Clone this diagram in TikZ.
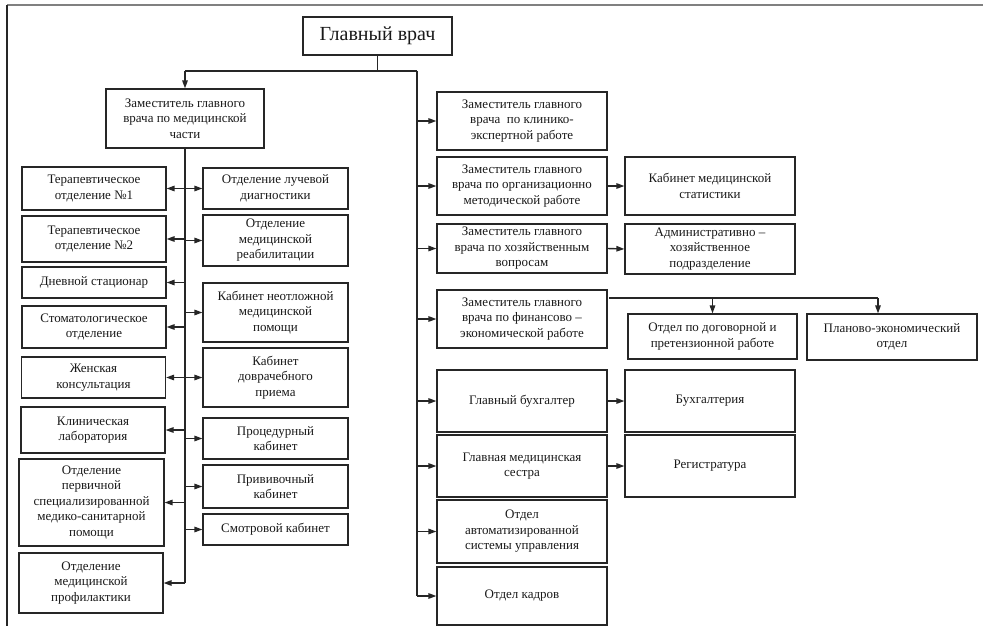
\documentclass[tikz,border=0pt]{standalone}
\usepackage{fontspec}
\setmainfont{Liberation Serif}
\usetikzlibrary{arrows.meta}

\tikzset{
  unit/.style={draw=black!85, line width=1.2pt, align=center, inner sep=1pt,
    text=black!90, font=\fontsize{13}{15.5}\selectfont},
  link/.style={draw=black!85, line width=1.4pt},
  arr/.style={link, -{Triangle[length=8pt,width=5.5pt]}},
}

\begin{document}
\begin{tikzpicture}[x=1pt,y=-1pt]
  \useasboundingbox (0,0) rectangle (983,626);

  % frame of the page
  \draw[gray, line width=2pt] (7,5) -- (983,5);
  \draw[black!85, line width=1.5pt] (7,5) -- (7,626);

  % top
  \node[unit, minimum width=149pt, minimum height=38pt, font=\fontsize{20}{23}\selectfont] (chief) at (377.5,36) {Главный врач};
  \node[unit, minimum width=158pt, minimum height=59pt] (dep) at (185,118.5) {Заместитель главного\\врача по медицинской\\части};

  % left column
  \node[unit, minimum width=144pt, minimum height=43pt] (ter1) at (94,188.5) {Терапевтическое\\отделение №1};
  \node[unit, minimum width=144pt, minimum height=46pt] (ter2) at (94,239) {Терапевтическое\\отделение №2};
  \node[unit, minimum width=144pt, minimum height=31pt] (day) at (94,282.5) {Дневной стационар};
  \node[unit, minimum width=144pt, minimum height=42pt] (stom) at (94,327) {Стоматологическое\\отделение};
  \node[unit, minimum width=144pt, minimum height=41pt] (wom) at (93.5,377.5) {Женская\\консультация};
  \node[unit, minimum width=144pt, minimum height=46pt] (lab) at (93,430) {Клиническая\\лаборатория};
  \node[unit, minimum width=145pt, minimum height=87pt] (prim) at (91.5,502.5) {Отделение\\первичной\\специализированной\\медико-санитарной\\помощи};
  \node[unit, minimum width=144pt, minimum height=60pt] (prof) at (91,583) {Отделение\\медицинской\\профилактики};

  % middle column
  \node[unit, minimum width=145pt, minimum height=41pt] (ray) at (275.5,188.5) {Отделение лучевой\\диагностики};
  \node[unit, minimum width=145pt, minimum height=51pt] (reh) at (275.5,240.5) {Отделение\\медицинской\\реабилитации};
  \node[unit, minimum width=145pt, minimum height=59pt] (urg) at (275.5,312.5) {Кабинет неотложной\\медицинской\\помощи};
  \node[unit, minimum width=145pt, minimum height=59pt] (pre) at (275.5,377.5) {Кабинет\\доврачебного\\приема};
  \node[unit, minimum width=145pt, minimum height=41pt] (proc) at (275.5,438.5) {Процедурный\\кабинет};
  \node[unit, minimum width=145pt, minimum height=43pt] (vac) at (275.5,486.5) {Прививочный\\кабинет};
  \node[unit, minimum width=145pt, minimum height=31pt] (exam) at (275.5,529.5) {Смотровой кабинет};

  % right column
  \node[unit, minimum width=170pt, minimum height=58pt] (expert) at (522,121) {Заместитель главного\\врача \ по клинико-\\экспертной работе};
  \node[unit, minimum width=170pt, minimum height=58pt] (method) at (522,186) {Заместитель главного\\врача по организационно\\методической работе};
  \node[unit, minimum width=170pt, minimum height=49pt] (hoz) at (522,248.5) {Заместитель главного\\врача по хозяйственным\\вопросам};
  \node[unit, minimum width=170pt, minimum height=58pt] (fin) at (522,319) {Заместитель главного\\врача по финансово –\\экономической работе};
  \node[unit, minimum width=170pt, minimum height=62pt] (acc) at (522,401) {Главный бухгалтер};
  \node[unit, minimum width=170pt, minimum height=62pt] (nurse) at (522,466) {Главная медицинская\\сестра};
  \node[unit, minimum width=170pt, minimum height=63pt] (asu) at (522,531.5) {Отдел\\автоматизированной\\системы управления};
  \node[unit, minimum width=170pt, minimum height=58pt] (staff) at (522,596) {Отдел кадров};

  % far right
  \node[unit, minimum width=170pt, minimum height=58pt] (stat) at (710,186) {Кабинет медицинской\\статистики};
  \node[unit, minimum width=170pt, minimum height=50pt] (adm) at (710,249) {Административно –\\хозяйственное\\подразделение};
  \node[unit, minimum width=169pt, minimum height=45pt] (dog) at (712.5,336.5) {Отдел по договорной и\\претензионной работе};
  \node[unit, minimum width=170pt, minimum height=46pt] (plan) at (892,337) {Планово-экономический\\отдел};
  \node[unit, minimum width=170pt, minimum height=62pt] (buh) at (710,401) {Бухгалтерия};
  \node[unit, minimum width=170pt, minimum height=62pt] (reg) at (710,466) {Регистратура};

  % connectors
  \coordinate (jl) at (185,71);
  \coordinate (jr) at (417,71);
  \coordinate (fa) at (609,298);
  \coordinate (fb) at (878,298);

  \draw[link] (chief.south) -- (chief.south |- jl);
  \draw[link] (jl) -- (jr);
  \draw[arr] (jl) -- (dep.north);

  \draw[link] (dep.south) -- (dep.south |- prof.east);
  \draw[arr] (dep.south |- prof.east) -- (prof.east);
  \foreach \n in {ter1,ter2,day,stom,wom,lab,prim}
    \draw[arr] (dep.south |- \n.east) -- (\n.east);
  \foreach \n in {ray,reh,urg,pre,proc,vac,exam}
    \draw[arr] (dep.south |- \n.west) -- (\n.west);

  \draw[link] (jr) -- (jr |- staff.west);
  \foreach \n in {expert,method,hoz,fin,acc,nurse,asu,staff}
    \draw[arr] (jr |- \n.west) -- (\n.west);

  \draw[arr] (method.east) -- (stat.west);
  \draw[arr] (hoz.east) -- (adm.west);
  \draw[arr] (acc.east) -- (buh.west);
  \draw[arr] (nurse.east) -- (reg.west);

  \draw[link] (fa) -- (fb);
  \draw[arr] (fa -| dog.north) -- (dog.north);
  \draw[arr] (fb) -- (fb |- plan.north);
\end{tikzpicture}
\end{document}
